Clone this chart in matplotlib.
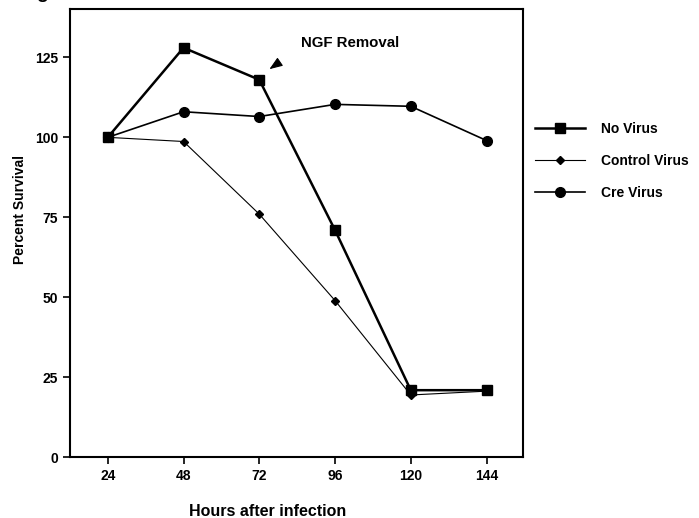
import numpy as np
import matplotlib.pyplot as plt

plt.rcParams['font.family'] = ['Liberation Sans', 'DejaVu Sans']
plt.rcParams['font.weight'] = 'bold'

# data
hours = [24, 48, 72, 96, 120, 144]
no_virus = [100, 128, 118, 71, 21, 21]
control_virus = [100, 98.7, 76, 49, 19.5, 20.7]
cre_virus = [100, 108, 106.5, 110.3, 109.7, 99]

x_ticks = [24, 48, 72, 96, 120, 144]
y_ticks = [0, 25, 50, 75, 100, 125]

fig = plt.figure(figsize=(6.99, 5.18), dpi=100)
ax = fig.add_axes([0.100, 0.117, 0.648, 0.865])

ax.plot(hours, no_virus, color='black', linewidth=1.8, marker='s', markersize=6.5,
        label='No Virus')
ax.plot(hours, control_virus, color='black', linewidth=0.8, marker='D', markersize=4,
        label='Control Virus')
ax.plot(hours, cre_virus, color='black', linewidth=1.2, marker='o', markersize=7,
        label='Cre Virus')

# NGF removal mark (arrow head only)
ax.annotate('', xy=(75.2, 121.3), xytext=(6.5, 4.5), textcoords='offset points',
            arrowprops=dict(arrowstyle='-|>,head_length=0.8,head_width=0.3',
                            color='black', lw=0.8, shrinkA=0, shrinkB=0))
ax.text(100.8, 129.5, 'NGF Removal', fontsize=10.8, fontweight='bold',
        ha='center', va='center')

ax.set_xlim(12, 155.5)
ax.set_ylim(0, 140)
ax.set_xticks(x_ticks)
ax.set_yticks(y_ticks)
ax.tick_params(direction='out', length=5, width=1.2, labelsize=10)
for lab in ax.get_xticklabels() + ax.get_yticklabels():
    lab.set_fontweight('bold')
for s in ax.spines.values():
    s.set_linewidth(1.5)

ax.set_xlabel('Hours after infection', fontsize=11.5, fontweight='bold')
ax.xaxis.set_label_coords(0.437, -0.105)
ax.set_ylabel('Percent Survival', fontsize=10, fontweight='bold')
ax.yaxis.set_label_coords(-0.095, 0.553)

leg = ax.legend(loc='center left', bbox_to_anchor=(1.0, 0.662), frameon=False,
                prop={'weight': 'bold', 'size': 10}, handlelength=3.6,
                labelspacing=1.3, handletextpad=1.1)

# partial panel letter cut at the top edge, as in the scan
fig.text(0.052, 1.012, 'g', fontsize=14, fontweight='bold', va='center')

fig.savefig('out.png', dpi=100)
